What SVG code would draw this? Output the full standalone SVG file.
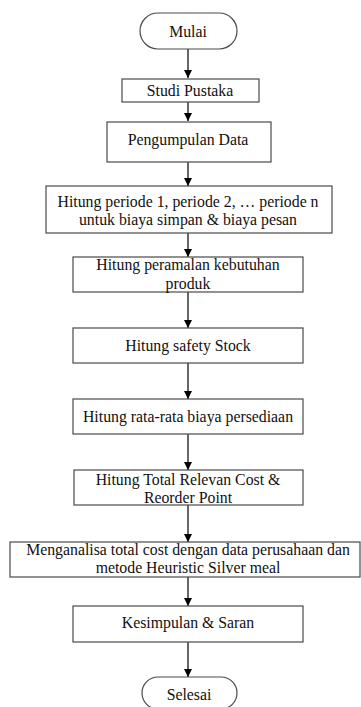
<svg xmlns="http://www.w3.org/2000/svg" width="361" height="707" viewBox="0 0 361 707">
<style>
.box{fill:#fff;stroke:#4a4a4a;stroke-width:1.2}
.t{font-family:"Liberation Serif","Times New Roman",serif;font-size:15.8px;fill:#111;text-anchor:middle}
.c{stroke:#000;stroke-width:1.2;fill:none;marker-end:url(#ah)}
</style>
<defs>
<marker id="ah" viewBox="0 0 10 10" refX="10" refY="5" markerWidth="8" markerHeight="8" markerUnits="userSpaceOnUse" orient="auto">
<path d="M0,0 L10,5 L0,10 Z" fill="#000"/>
</marker>
</defs>
<rect width="361" height="707" fill="#fff"/>
<g id="connectors">
<line class="c" x1="188" y1="49" x2="188" y2="78"/>
<line class="c" x1="188" y1="102" x2="188" y2="121"/>
<line class="c" x1="188" y1="162" x2="188" y2="186"/>
<line class="c" x1="188" y1="233" x2="188" y2="257"/>
<line class="c" x1="188" y1="292" x2="188" y2="328"/>
<line class="c" x1="188" y1="363" x2="188" y2="399"/>
<line class="c" x1="188" y1="434" x2="188" y2="470"/>
<line class="c" x1="188" y1="505" x2="188" y2="542"/>
<line class="c" x1="188" y1="577" x2="188" y2="606"/>
<line class="c" x1="188" y1="642" x2="188" y2="677"/>
</g>
<g id="mulai">
<rect class="box" x="140" y="13" width="97" height="36" rx="18"/>
<text class="t" x="188" y="37">Mulai</text>
</g>
<g id="studi">
<rect class="box" x="122" y="79" width="137" height="23"/>
<text class="t" x="190" y="96">Studi Pustaka</text>
</g>
<g id="pengumpulan">
<rect class="box" x="107" y="122" width="164" height="40"/>
<text class="t" x="188" y="145">Pengumpulan Data</text>
</g>
<g id="periode">
<rect class="box" x="46" y="186" width="286" height="47"/>
<text class="t" x="188" y="207">Hitung periode 1, periode 2, … periode n</text>
<text class="t" x="188" y="225">untuk biaya simpan &amp; biaya pesan</text>
</g>
<g id="peramalan">
<rect class="box" x="73" y="257" width="230" height="35"/>
<text class="t" x="188" y="270">Hitung peramalan kebutuhan</text>
<text class="t" x="188" y="289">produk</text>
</g>
<g id="safety">
<rect class="box" x="73" y="328" width="230" height="35"/>
<text class="t" x="188" y="351">Hitung safety Stock</text>
</g>
<g id="ratarata">
<rect class="box" x="73" y="399" width="230" height="35"/>
<text class="t" x="188" y="422">Hitung rata-rata biaya persediaan</text>
</g>
<g id="totalrelevan">
<rect class="box" x="74" y="470" width="229" height="35"/>
<text class="t" x="188" y="485">Hitung Total Relevan Cost &amp;</text>
<text class="t" x="188" y="503">Reorder Point</text>
</g>
<g id="menganalisa">
<rect class="box" x="10" y="542" width="350" height="35"/>
<text class="t" x="188" y="555">Menganalisa total cost dengan data perusahaan dan</text>
<text class="t" x="188" y="573">metode Heuristic Silver meal</text>
</g>
<g id="kesimpulan">
<rect class="box" x="73" y="606" width="230" height="36"/>
<text class="t" x="188" y="628">Kesimpulan &amp; Saran</text>
</g>
<g id="selesai">
<rect class="box" x="142" y="677" width="95" height="32" rx="16"/>
<text class="t" x="189" y="700">Selesai</text>
</g>
</svg>
